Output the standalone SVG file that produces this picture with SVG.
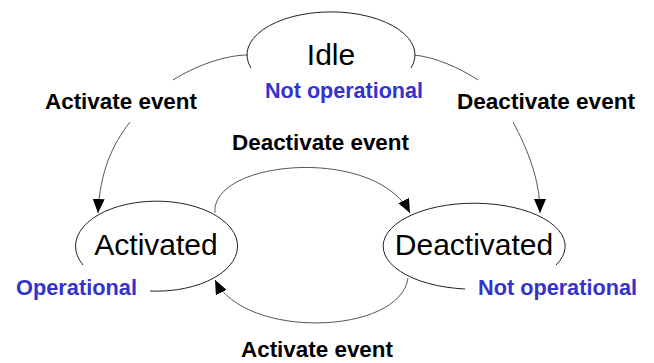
<svg xmlns="http://www.w3.org/2000/svg" width="654" height="363" viewBox="0 0 654 363">
<style>
.state{fill:none;stroke:#222;stroke-width:1}
.edge{fill:none;stroke:#555;stroke-width:1}
.name{font-family:"Liberation Sans",Arial,sans-serif;font-size:30px;fill:#000}
.status{font-family:"Liberation Sans",Arial,sans-serif;font-size:22px;font-weight:bold;fill:#3333cc}
.elabel{font-family:"Liberation Sans",Arial,sans-serif;font-size:22px;font-weight:bold;fill:#000}
</style>
<defs>
<marker id="arrow" markerUnits="userSpaceOnUse" markerWidth="14" markerHeight="12" refX="14" refY="6" orient="auto">
<path d="M0,0 L14,6 L0,12 z" fill="#000"/>
</marker>
</defs>
<rect width="654" height="363" fill="#fff"/>
<g id="idle">
<path class="state" d="M251,68 A84,43 0 1 1 411,68"/>
<text class="name" x="331" y="65" text-anchor="middle">Idle</text>
<text class="status" x="265" y="98" textLength="158" lengthAdjust="spacingAndGlyphs">Not operational</text>
</g>
<g id="activated">
<path class="state" d="M150,291 A81,45 0 1 0 83,265"/>
<text class="name" x="156" y="255" text-anchor="middle">Activated</text>
<text class="status" x="16" y="295" textLength="121" lengthAdjust="spacingAndGlyphs">Operational</text>
</g>
<g id="deactivated">
<path class="state" d="M556,265 A91,43 0 1 0 465,289"/>
<text class="name" x="474" y="255" text-anchor="middle">Deactivated</text>
<text class="status" x="478" y="295" textLength="159" lengthAdjust="spacingAndGlyphs">Not operational</text>
</g>
<g id="connectors">
<path class="edge" d="M248,55 C225,55 195,66 173,80"/>
<path class="edge" d="M130,122 C112,145 100,172 98,213" marker-end="url(#arrow)"/>
<path class="edge" d="M414,55 C435,57 460,68 478,80"/>
<path class="edge" d="M513,122 C528,150 540,180 540,213" marker-end="url(#arrow)"/>
<path class="edge" d="M215,213 C210,160 375,145 410,213" marker-end="url(#arrow)"/>
<path class="edge" d="M408,278 C400,335 245,340 215,280" marker-end="url(#arrow)"/>
<text class="elabel" x="45" y="109" textLength="152" lengthAdjust="spacingAndGlyphs">Activate event</text>
<text class="elabel" x="457" y="109" textLength="178" lengthAdjust="spacingAndGlyphs">Deactivate event</text>
<text class="elabel" x="232" y="150" textLength="177" lengthAdjust="spacingAndGlyphs">Deactivate event</text>
<text class="elabel" x="241" y="357" textLength="152" lengthAdjust="spacingAndGlyphs">Activate event</text>
</g>
</svg>
